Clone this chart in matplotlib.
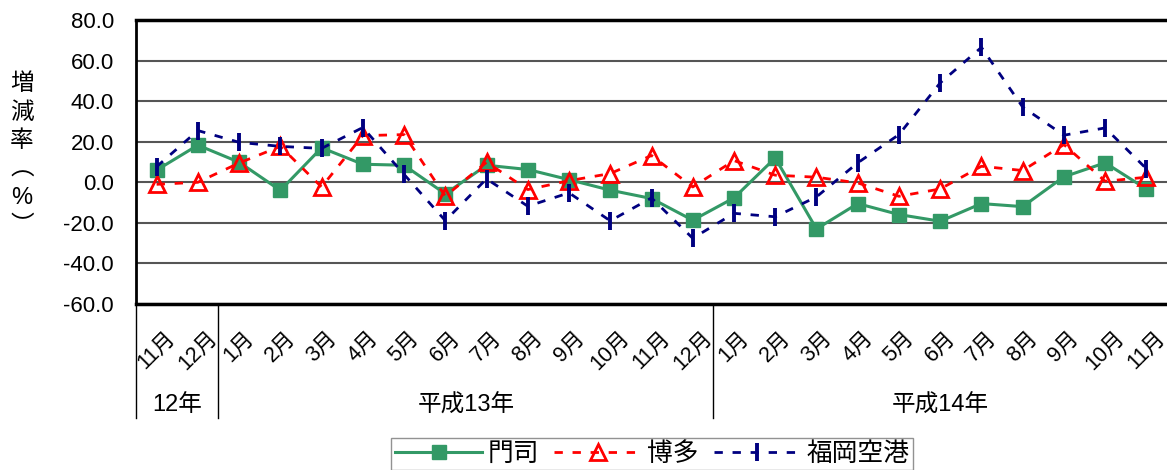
import matplotlib.pyplot as plt
import numpy as np

plt.rcParams['font.family'] = ['Liberation Sans', 'Noto Sans CJK JP', 'DejaVu Sans']

# month labels (平成12年11月 - 平成14年11月)
months = ['11月', '12月',
          '1月', '2月', '3月', '4月', '5月', '6月', '7月', '8月', '9月', '10月', '11月', '12月',
          '1月', '2月', '3月', '4月', '5月', '6月', '7月', '8月', '9月', '10月', '11月']
years = ['12年', '平成13年', '平成14年']
year_len = [2, 12, 11]

# 増減率 (%)
moji = [6.0, 18.3, 9.9, -4.0, 17.0, 8.9, 8.4, -5.7, 8.4, 6.3, 1.3, -3.9, -8.0,
        -18.7, -7.7, 12.0, -23.0, -10.5, -15.9, -19.2, -10.5, -12.0, 2.7, 9.6, -3.3]
hakata = [-1.0, 0.0, 9.5, 17.7, -2.3, 23.0, 23.5, -6.9, 9.9, -3.6, 0.8, 4.3, 13.2,
          -2.3, 10.7, 3.5, 2.5, -0.3, -6.9, -3.3, 7.9, 5.8, 18.6, 0.5, 2.5]
fukuoka = [7.7, 25.5, 19.7, 17.7, 16.7, 27.0, 3.9, -18.9, 1.7, -11.8, -5.2, -19.0, -7.7,
           -27.6, -15.3, -17.0, -7.2, 9.6, 23.5, 49.0, 66.5, 37.1, 23.2, 26.8, 6.7]

x = np.arange(len(months))

fig = plt.figure(figsize=(11.67, 4.70), dpi=100)
ax = fig.add_axes([136 / 1167, 166 / 470, 1031 / 1167, 284 / 470])

ax.plot(x, moji, color='#339966', lw=2.2, marker='s', ms=10, label='門司', zorder=3)
ax.plot(x, hakata, color='#FF0000', lw=2, ls=(0, (3, 3.5)), marker='^', ms=11,
        mfc='none', mew=2, label='博多', zorder=4)
ax.plot(x, fukuoka, color='#000080', lw=2, ls=(0, (3, 3.5)), marker='|', ms=13,
        mew=2.8, label='福岡空港', zorder=5)

ax.set_xlim(-0.5, len(months) - 0.5)
ax.set_ylim(-60, 80)
ax.set_yticks(np.arange(-60, 81, 20))
ax.set_yticklabels(['%.1f' % v for v in np.arange(-60, 81, 20)], fontsize=16)
ax.tick_params(axis='y', length=0, pad=16)
ax.set_xticks([])
ax.yaxis.grid(True, color='#555555', lw=1.5)
ax.set_axisbelow(True)

for s in ['top', 'bottom']:
    ax.spines[s].set_linewidth(2.5)
ax.spines['left'].set_linewidth(2)
ax.spines['right'].set_visible(False)

trans = ax.get_xaxis_transform()
for i, m in enumerate(months):
    ax.text(i, -0.082, m, transform=trans, rotation=45, ha='center', va='top', fontsize=15.5)

# year groups with separators
start = -0.5
for name, n in zip(years, year_len):
    ax.plot([start, start], [0, -0.40], transform=trans, color='black', lw=1, clip_on=False)
    ax.text(start + n / 2, -0.356, name, transform=trans, ha='center', va='center', fontsize=17)
    start += n

# vertical y label
for i, ch in enumerate(['増', '減', '率', '︵', '%', '︶']):
    fig.text(22 / 1167, 1 - (84 + i * 28.5) / 470, ch, ha='center', va='center', fontsize=17)

fig.legend(loc='upper center', bbox_to_anchor=(652 / 1167, 32 / 470), ncol=3,
           fontsize=18.5, handlelength=3.4, handletextpad=0.2, columnspacing=0.6,
           frameon=True, fancybox=False, edgecolor='#777777', borderpad=0.15,
           borderaxespad=0)

fig.savefig('out.png', dpi=100)
